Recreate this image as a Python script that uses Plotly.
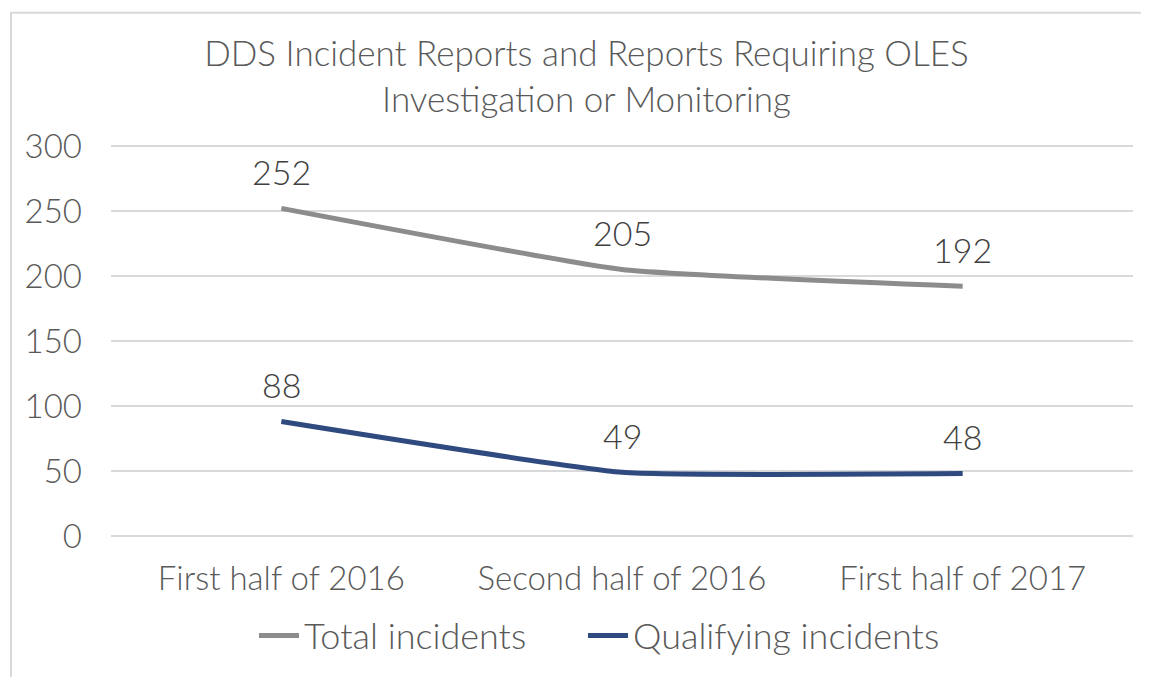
import plotly.graph_objects as go

categories = ["First half of 2016", "Second half of 2016", "First half of 2017"]
total_incidents = [252, 205, 192]
qualifying_incidents = [88, 49, 48]
y_ticks = [0, 50, 100, 150, 200, 250, 300]

FONT = "Lato"
TXT = "#595959"
GRAY = "#8c8c8c"
NAVY = "#2f4a7f"

# page body has an 8px margin, so the figure is laid out 8px smaller
W, H = 1141, 669
L, R, T, B = 103, 16, 136, 139

fig = go.Figure()
fig.add_trace(go.Scatter(x=categories, y=total_incidents, name="Total incidents", legend="legend",
                         showlegend=True, mode="lines",
                         line=dict(color=GRAY, width=5, shape="spline", smoothing=0.4)))
fig.add_trace(go.Scatter(x=categories, y=qualifying_incidents, name="Qualifying incidents", legend="legend2",
                         showlegend=True, mode="lines",
                         line=dict(color=NAVY, width=5, shape="spline", smoothing=0.4)))

annotations = []
for series in (total_incidents, qualifying_incidents):
    for c, v in zip(categories, series):
        annotations.append(dict(x=c, y=v, xref="x", yref="y", text=str(v), showarrow=False,
                                yshift=37, font=dict(family=FONT, size=34, color="#404040", weight=300)))

pw = W - L - R
ph = H - T - B
def px_x(px):
    return (px - L) / pw
def px_y(py):
    return (H - B - py) / ph

legend_font = dict(family=FONT, size=36, color=TXT, weight=300)

fig.update_layout(
    width=W, height=H,
    margin=dict(l=L, r=R, t=T, b=B),
    paper_bgcolor="white", plot_bgcolor="white",
    showlegend=True,
    title=dict(text="DDS Incident Reports and Reports Requiring OLES<br>Investigation or Monitoring",
               x=0.507, xanchor="center", y=1 - 58 / H, yanchor="middle",
               font=dict(family=FONT, size=35, color=TXT, weight=300)),
    xaxis=dict(type="category", range=[-0.5, 2.5], showgrid=False, zeroline=False, showline=False,
               ticks="", ticklabelstandoff=20,
               tickfont=dict(family=FONT, size=33, color=TXT, weight=300)),
    yaxis=dict(range=[0, 301.5], tickvals=y_ticks, showgrid=True, gridcolor="#d9d9d9", gridwidth=1.5,
               zeroline=True, zerolinecolor="#d9d9d9", zerolinewidth=1.5, showline=False,
               ticks="", ticklabelstandoff=28,
               tickfont=dict(family=FONT, size=33, color=TXT, weight=300)),
    legend=dict(orientation="h", x=px_x(246), xanchor="left", y=px_y(630), yanchor="middle",
                font=legend_font, itemwidth=40, visible=True),
    legend2=dict(orientation="h", x=px_x(575), xanchor="left", y=px_y(630), yanchor="middle",
                 font=legend_font, itemwidth=40, visible=True),
    annotations=annotations,
    shapes=[dict(type="rect", xref="paper", yref="paper",
                 x0=px_x(3), x1=px_x(1300), y0=px_y(800), y1=px_y(4),
                 line=dict(color="#d9d9d9", width=2), fillcolor="rgba(0,0,0,0)", layer="below")],
)

fig.write_html("out.html")
